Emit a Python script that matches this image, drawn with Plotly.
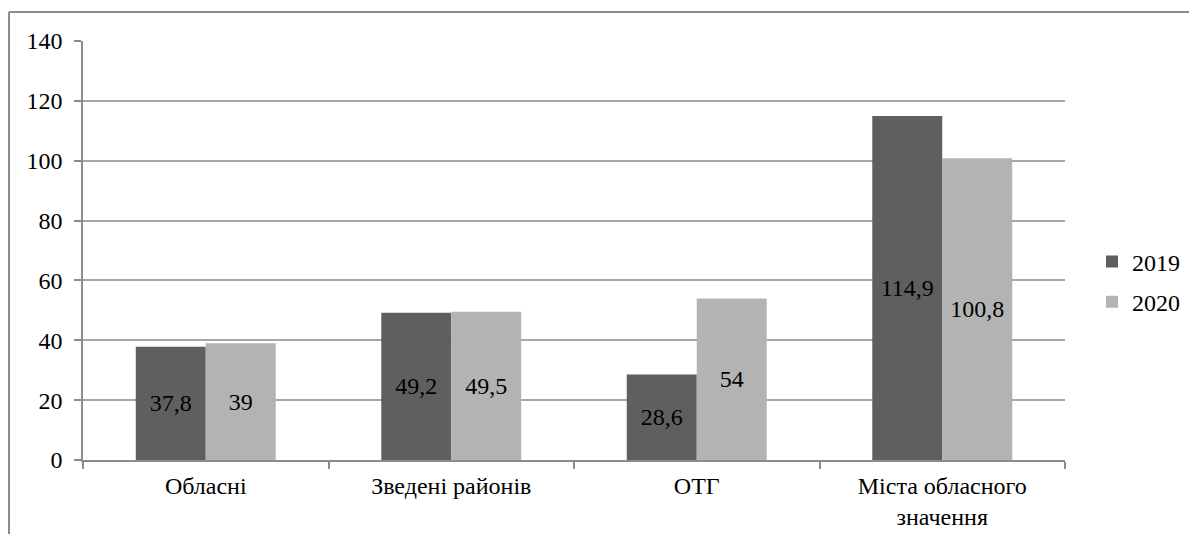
import plotly.graph_objects as go

categories = ["Обласні", "Зведені районів", "ОТГ", "Міста обласного<br>значення"]
values_2019 = [37.8, 49.2, 28.6, 114.9]
values_2020 = [39, 49.5, 54, 100.8]
series_names = ["2019", "2020"]
y_ticks = [0, 20, 40, 60, 80, 100, 120, 140]

OFF = 8  # page body margin
W, H = 1197 - 2 * OFF, 542 - 2 * OFF
L, T = 83 - OFF, 41 - OFF
pw, ph = 982, 419
R, B = W - L - pw, H - T - ph

def fmt(v):
    return ("%g" % v).replace(".", ",")

FONT = "'Liberation Serif', 'Times New Roman', Times, serif"
FS = 24

fig = go.Figure()
for name, vals, col, grp in [(series_names[0], values_2019, "#5f5f5f", "a"),
                             (series_names[1], values_2020, "#b3b3b3", "b")]:
    fig.add_trace(go.Bar(
        x=categories, y=vals, name=name, legendgroup=grp,
        marker=dict(color=col, line=dict(color=col, width=0)),
        text=[fmt(v) for v in vals], textposition="inside",
        insidetextanchor="middle", textangle=0,
        textfont=dict(family=FONT, size=FS, color="#000000"),
        constraintext="none",
    ))

def px_x(x):
    return (x - OFF - L) / pw

def px_y(y):
    return 1 - (y - OFF - T) / ph

fig.update_layout(
    width=W, height=H,
    margin=dict(l=L, r=R, t=T, b=B, autoexpand=False),
    paper_bgcolor="white", plot_bgcolor="white",
    barmode="group", bargap=0.43, bargroupgap=0,
    font=dict(family=FONT, size=FS, color="#000000"),
    showlegend=True,
    legend=dict(x=px_x(1092), y=px_y(282), xanchor="left", yanchor="middle",
                tracegroupgap=6, font=dict(family=FONT, size=FS),
                bgcolor="rgba(0,0,0,0)", itemwidth=30),
    xaxis=dict(type="category", showgrid=False, showline=True, linecolor="#8c8c8c", linewidth=1.5,
               ticks="outside", ticklen=7, tickcolor="#8c8c8c", tickwidth=1.5,
               tickson="boundaries", tickfont=dict(family=FONT, size=FS), ticklabelstandoff=3,
               fixedrange=True),
    yaxis=dict(range=[0, 140], tickvals=y_ticks, ticktext=[str(t) for t in y_ticks],
               showgrid=True, gridcolor="#a6a6a6", gridwidth=1.5, zeroline=False,
               showline=True, linecolor="#8c8c8c", linewidth=1.5,
               ticks="outside", ticklen=7, tickcolor="#8c8c8c", tickwidth=1.5,
               tickfont=dict(family=FONT, size=FS), ticklabelstandoff=7),
    shapes=[
        dict(type="line", xref="paper", yref="paper",
             x0=px_x(9), x1=px_x(1210), y0=px_y(12), y1=px_y(12),
             line=dict(color="#8c8c8c", width=2)),
        dict(type="line", xref="paper", yref="paper",
             x0=px_x(9), x1=px_x(9), y0=px_y(12), y1=px_y(560),
             line=dict(color="#8c8c8c", width=2)),
    ],
)

fig.write_html("out.html")
